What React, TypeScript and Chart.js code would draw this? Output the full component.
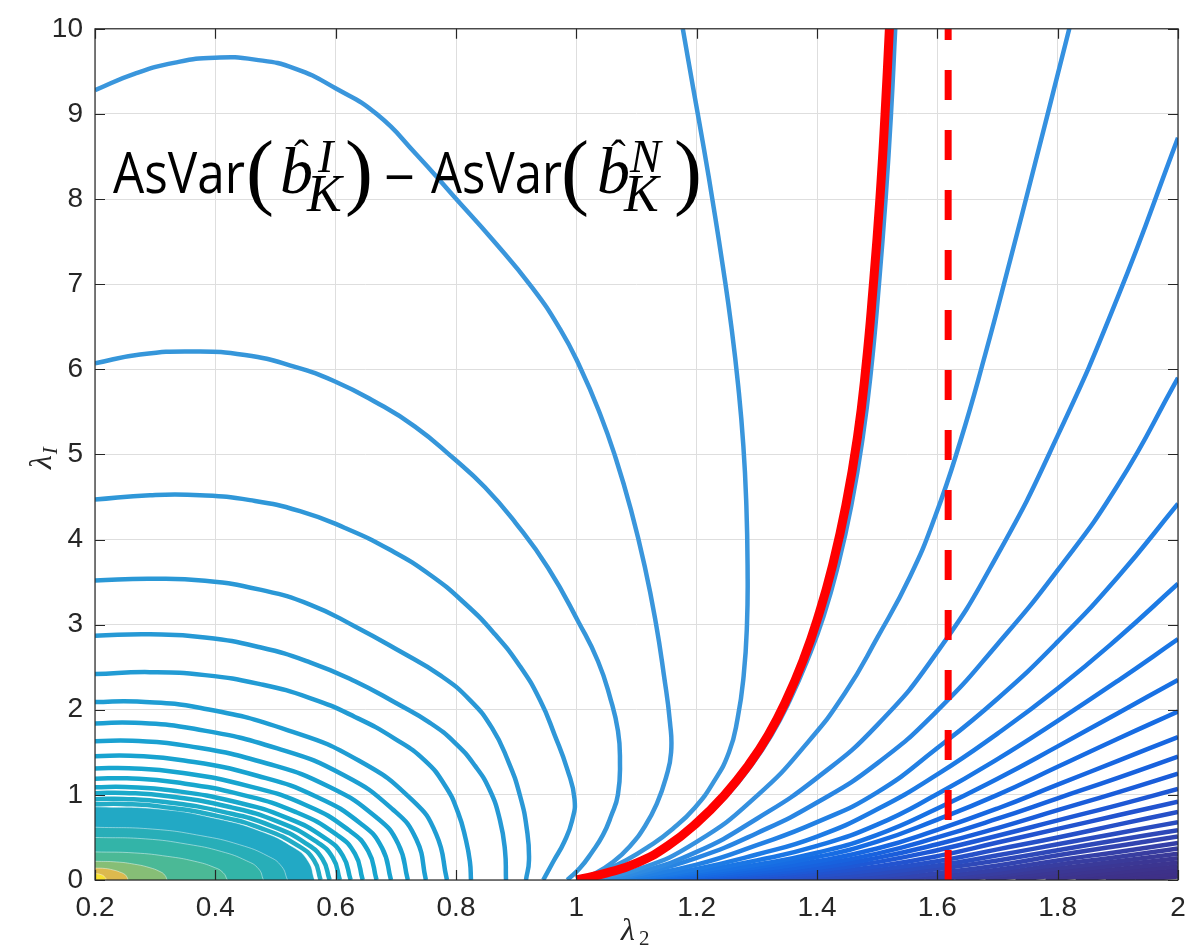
import React, { useEffect, useRef } from "react";
import { Chart, registerables } from "chart.js";

Chart.register(...registerables);

type P = [number, number];

// ---- axes ----
const xTicks = [0.2, 0.4, 0.6, 0.8, 1, 1.2, 1.4, 1.6, 1.8, 2];
const yTicks = [0, 1, 2, 3, 4, 5, 6, 7, 8, 9, 10];
const xRange = [0.2, 2];
const yRange = [0, 10];

// ---- vertical reference (dashed red) ----
const goldenRatio = 1.618;

// ---- zero contour (red) and the blue zero-level contour under it ----
const zeroRed: P[] = [[1.0,0],[1.0493,0.08],[1.1008,0.2],[1.1516,0.4],[1.2015,0.68],[1.2464,1.0],[1.2862,1.35],[1.3187,1.7],[1.3481,2.1],[1.378,2.6],[1.4022,3.1],[1.426,3.7],[1.448,4.4],[1.4672,5.2],[1.4809,6.0],[1.4937,7.0],[1.5045,8.0],[1.5131,9.0],[1.5203,10]];
const zeroBlue: P[] = [[1.0,0],[1.051,0.08],[1.103,0.2],[1.154,0.4],[1.204,0.68],[1.251,1.0],[1.291,1.35],[1.324,1.7],[1.354,2.1],[1.385,2.6],[1.411,3.1],[1.435,3.7],[1.457,4.4],[1.476,5.2],[1.49,6.0],[1.503,7.0],[1.514,8.0],[1.523,9.0],[1.53,10]];

// ---- left family ----
const cTop: P[] = [[1.177,10],[1.1943,9.3],[1.2118,8.6],[1.2283,7.9],[1.2437,7.2],[1.2577,6.5],[1.2691,5.8],[1.2776,5.1],[1.2826,4.4],[1.2846,3.7],[1.2836,3.0],[1.2781,2.4],[1.2681,1.9],[1.2537,1.5],[1.228,1.15],[1.197,0.85],[1.16,0.6],[1.122,0.4],[1.082,0.23],[1.042,0.1],[1.006,0]];
const cA: P[] = [[0.2,9.28],[0.2665,9.474],[0.333,9.603],[0.3994,9.661],[0.4659,9.638],[0.5324,9.533],[0.6005,9.299],[0.6687,8.995],[0.7335,8.53],[0.7966,8.03],[0.8598,7.53],[0.9263,6.963],[0.9728,6.475],[1.006,6.027],[1.0393,5.478],[1.0659,4.946],[1.0908,4.348],[1.114,3.675],[1.1323,3.016],[1.1456,2.404],[1.1556,1.854],[1.1575,1.5],[1.1489,1.2],[1.134,0.9],[1.114,0.631],[1.0891,0.397],[1.0609,0.21],[1.0326,0.082],[1.0027,0]];
const cB: P[] = [[0.2,6.07],[0.2748,6.174],[0.3612,6.21],[0.4493,6.168],[0.5324,6.028],[0.598,5.86],[0.6653,5.619],[0.7318,5.327],[0.7949,4.96],[0.8481,4.614],[0.8996,4.19],[0.9529,3.668],[1.0044,3.02],[1.036,2.57],[1.0571,2.12],[1.0692,1.752],[1.0725,1.425],[1.0692,1.005],[1.0576,0.748],[1.0443,0.53],[1.026,0.327],[1.006,0.14],[0.985,0]];
const cC: P[] = [[0.2,4.47],[0.2914,4.521],[0.3745,4.521],[0.4576,4.463],[0.5407,4.334],[0.6155,4.136],[0.6903,3.879],[0.7568,3.586],[0.8149,3.248],[0.8648,2.886],[0.9063,2.512],[0.9396,2.114],[0.9645,1.694],[0.985,1.3],[0.997,0.95],[0.993,0.7],[0.98,0.45],[0.962,0.22],[0.945,0]];
const cD: P[] = [[0.2,3.52],[0.2914,3.54],[0.3828,3.516],[0.4742,3.411],[0.5573,3.236],[0.6321,2.979],[0.7069,2.687],[0.7734,2.407],[0.8232,2.114],[0.8598,1.787],[0.8864,1.402],[0.9063,0.993],[0.918,0.584],[0.9213,0.234],[0.9163,0]];
const cE: P[] = [[0.2,2.87],[0.2914,2.886],[0.3828,2.85],[0.4742,2.734],[0.5573,2.558],[0.6321,2.336],[0.7002,2.079],[0.7568,1.846],[0.7983,1.612],[0.8315,1.343],[0.8565,1.051],[0.8731,0.701],[0.8814,0.35],[0.8831,0]];
const cF: P[] = [[0.2,2.42],[0.2914,2.442],[0.3828,2.407],[0.4742,2.301],[0.5573,2.138],[0.6321,1.916],[0.6986,1.659],[0.7484,1.402],[0.7817,1.11],[0.8033,0.794],[0.8166,0.467],[0.8232,0.21],[0.8249,0]];
const cG: P[] = [[0.2,2.09],[0.27,2.096],[0.376,2.02],[0.522,1.756],[0.639,1.4],[0.727,0.94],[0.767,0.54],[0.785,0]];
const cH: P[] = [[0.2,1.84],[0.266,1.846],[0.365,1.776],[0.503,1.546],[0.613,1.233],[0.695,0.828],[0.734,0.478],[0.75,0]];
const cI: P[] = [[0.2,1.63],[0.262,1.635],[0.356,1.573],[0.486,1.369],[0.59,1.092],[0.668,0.734],[0.704,0.424],[0.72,0]];
const cJ: P[] = [[0.2,1.455],[0.259,1.46],[0.348,1.404],[0.471,1.222],[0.569,0.975],[0.643,0.655],[0.677,0.378],[0.692,0]];
const cK: P[] = [[0.2,1.31],[0.256,1.314],[0.34,1.264],[0.457,1.1],[0.551,0.878],[0.621,0.59],[0.654,0.341],[0.668,0]];
const cL: P[] = [[0.2,1.19],[0.253,1.194],[0.334,1.148],[0.445,1.0],[0.534,0.797],[0.601,0.536],[0.632,0.309],[0.645,0]];
const cM: P[] = [[0.2,1.09],[0.251,1.093],[0.328,1.052],[0.434,0.916],[0.519,0.73],[0.583,0.49],[0.612,0.283],[0.625,0]];
const cN: P[] = [[0.2,1.02],[0.249,1.023],[0.322,0.984],[0.424,0.857],[0.505,0.683],[0.566,0.459],[0.595,0.265],[0.607,0]];
const cO: P[] = [[0.2,0.95],[0.247,0.953],[0.317,0.917],[0.415,0.798],[0.493,0.637],[0.551,0.428],[0.578,0.247],[0.59,0]];
const cP: P[] = [[0.2,0.89],[0.245,0.893],[0.313,0.859],[0.406,0.748],[0.481,0.596],[0.538,0.4],[0.564,0.231],[0.575,0]];

// dense core near the origin (filled levels)
const core1: P[] = [[0.2,0.86],[0.31,0.83],[0.401,0.722],[0.474,0.576],[0.529,0.387],[0.554,0.224],[0.565,0]];
const core2: P[] = [[0.2,0.62],[0.296,0.598],[0.376,0.521],[0.44,0.415],[0.488,0.279],[0.51,0.161],[0.52,0]];
const core3: P[] = [[0.2,0.5],[0.284,0.483],[0.354,0.42],[0.41,0.335],[0.452,0.225],[0.472,0.13],[0.48,0]];
const core4: P[] = [[0.2,0.33],[0.266,0.318],[0.321,0.277],[0.365,0.221],[0.398,0.149],[0.413,0.086],[0.42,0]];
const core5: P[] = [[0.2,0.22],[0.236,0.212],[0.266,0.185],[0.29,0.147],[0.308,0.099],[0.316,0.057],[0.32,0]];
const core6: P[] = [[0.2,0.14],[0.217,0.135],[0.23,0.118],[0.241,0.094],[0.25,0.063],[0.253,0.036],[0.255,0]];
const core7: P[] = [[0.2,0.075],[0.205,0.072],[0.21,0.063],[0.214,0.05],[0.216,0.034],[0.218,0.02],[0.218,0]];

// ---- right family ----
const r2: P[] = [[1.0193,0],[1.1008,0.12],[1.2005,0.45],[1.3019,1.0],[1.385,1.62],[1.4465,2.196],[1.5005,2.85],[1.5545,3.563],[1.596,4.264],[1.6376,5.14],[1.6791,6.162],[1.7207,7.272],[1.7622,8.411],[1.8038,9.568],[1.8196,10.01]];
const r3: P[] = [[1.04,0],[1.1,0.08],[1.2,0.33],[1.3,0.72],[1.4,1.2],[1.5,1.82],[1.6,2.68],[1.7,3.82],[1.8,5.22],[1.9,6.85],[2.0,8.72]];
const r4: P[] = [[1.05,0],[1.1,0.06],[1.2,0.26],[1.3,0.55],[1.4,0.91],[1.5,1.37],[1.6,1.99],[1.7,2.77],[1.8,3.64],[1.9,4.64],[2.0,5.9]];
const r5: P[] = [[1.06,0],[1.1,0.04],[1.2,0.18],[1.3,0.41],[1.4,0.68],[1.5,1.03],[1.6,1.55],[1.7,2.13],[1.8,2.8],[1.9,3.56],[2.0,4.42]];
const r6: P[] = [[1.07,0],[1.1,0.02],[1.2,0.13],[1.3,0.3],[1.4,0.51],[1.5,0.83],[1.6,1.24],[1.7,1.72],[1.8,2.25],[1.9,2.84],[2.0,3.48]];
const r7: P[] = [[1.08,0],[1.2,0.1],[1.3,0.23],[1.4,0.4],[1.5,0.65],[1.6,1.01],[1.7,1.42],[1.8,1.87],[1.9,2.34],[2.0,2.83]];
const r8: P[] = [[1.09,0],[1.2,0.08],[1.3,0.18],[1.4,0.32],[1.5,0.53],[1.6,0.84],[1.7,1.19],[1.8,1.57],[1.9,1.96],[2.0,2.35]];
const r9: P[] = [[1.1,0],[1.2,0.06],[1.3,0.15],[1.4,0.27],[1.5,0.45],[1.6,0.71],[1.7,1.0],[1.8,1.33],[1.9,1.66],[2.0,1.98]];
const r10: P[] = [[1.12,0],[1.2,0.04],[1.3,0.12],[1.4,0.22],[1.5,0.37],[1.6,0.59],[1.7,0.84],[1.8,1.12],[1.9,1.4],[2.0,1.68]];
const r11: P[] = [[1.14,0],[1.2,0.03],[1.3,0.09],[1.4,0.18],[1.5,0.31],[1.6,0.5],[1.7,0.72],[1.8,0.96],[1.9,1.2],[2.0,1.45]];
const r12: P[] = [[1.17,0],[1.3,0.07],[1.4,0.14],[1.5,0.26],[1.6,0.42],[1.7,0.61],[1.8,0.82],[1.9,1.03],[2.0,1.25]];
const r13: P[] = [[1.2,0],[1.3,0.045],[1.4,0.11],[1.5,0.21],[1.6,0.35],[1.7,0.52],[1.8,0.7],[1.9,0.88],[2.0,1.07]];
const r14: P[] = [[1.24,0],[1.3,0.02],[1.4,0.08],[1.5,0.16],[1.6,0.28],[1.7,0.44],[1.8,0.6],[1.9,0.76],[2.0,0.92]];
const r15: P[] = [[1.29,0],[1.4,0.05],[1.5,0.12],[1.6,0.22],[1.7,0.36],[1.8,0.5],[1.9,0.65],[2.0,0.8]];
const r16: P[] = [[1.34,0],[1.4,0.02],[1.5,0.08],[1.6,0.17],[1.7,0.29],[1.8,0.42],[1.9,0.55],[2.0,0.68]];
const r17: P[] = [[1.4,0],[1.5,0.04],[1.6,0.13],[1.7,0.23],[1.8,0.35],[1.9,0.47],[2.0,0.585]];
const r18: P[] = [[1.46,0],[1.55,0.04],[1.6,0.08],[1.7,0.17],[1.8,0.29],[1.9,0.4],[2.0,0.51]];
const r19: P[] = [[1.52,0],[1.6,0.04],[1.7,0.12],[1.8,0.23],[1.9,0.33],[2.0,0.435]];
const r20: P[] = [[1.58,0],[1.7,0.08],[1.8,0.18],[1.9,0.27],[2.0,0.37]];
const r21: P[] = [[1.63,0],[1.7,0.05],[1.8,0.135],[1.9,0.22],[2.0,0.31]];
const r22: P[] = [[1.68,0],[1.8,0.095],[1.9,0.175],[2.0,0.255]];
const r23: P[] = [[1.73,0],[1.8,0.055],[1.9,0.13],[2.0,0.205]];
const r24: P[] = [[1.78,0],[1.9,0.09],[2.0,0.16]];
const r25: P[] = [[1.83,0],[1.9,0.05],[2.0,0.115]];
const r26: P[] = [[1.88,0],[1.95,0.04],[2.0,0.075]];
const r27: P[] = [[1.93,0],[2.0,0.04]];

// ---- styling (kept apart from data) ----
const leftCurves: [P[], string][] = [
  [cB, "#3596da"], [cC, "#2f97d8"], [cD, "#2a98d6"], [cE, "#2699d5"], [cF, "#229bd4"],
  [cG, "#1f9dd3"], [cH, "#1c9fd2"], [cI, "#1aa1d1"], [cJ, "#18a3d0"], [cK, "#17a5cf"],
  [cL, "#17a7ce"], [cM, "#18a8cc"], [cN, "#1aaaca"], [cO, "#1eabc8"], [cP, "#22acc6"],
];
const coreLevels: [P[], string][] = [
  [core1, "#22a9c5"], [core2, "#28aeb8"], [core3, "#33b4a8"], [core4, "#4bb996"],
  [core5, "#86be76"], [core6, "#dcb94e"], [core7, "#f8e12f"],
];
const rightCurves: [P[], string][] = [
  [r2, "#3591e0"], [r3, "#2e8ae2"], [r4, "#2885e3"], [r5, "#2280e4"], [r6, "#1d7be5"],
  [r7, "#1a76e5"], [r8, "#1871e4"], [r9, "#176ce3"], [r10, "#1767e1"], [r11, "#1862de"],
  [r12, "#1a5dda"], [r13, "#1e58d5"], [r14, "#2253cf"], [r15, "#2650c8"], [r16, "#2a4cc0"],
  [r17, "#2e48b8"], [r18, "#3244b0"], [r19, "#3540a8"], [r20, "#383da0"], [r21, "#3a3a99"],
  [r22, "#3b3794"], [r23, "#3c3590"], [r24, "#3d338c"], [r25, "#3d3189"], [r26, "#3e3087"],
  [r27, "#3e2f86"],
];

const LINE_W = 4.5;

function ds(pts: P[], color: string, width: number, order: number, extra: any = {}) {
  return {
    data: pts.map(([x, y]) => ({ x, y })),
    showLine: true,
    borderColor: color,
    backgroundColor: color,
    borderWidth: width,
    pointRadius: 0,
    pointHoverRadius: 0,
    tension: 0.5,
    fill: false,
    clip: 0,
    order,
    ...extra,
  };
}

const SANS = '"Open Sans", "Noto Sans", "DejaVu Sans", sans-serif';
const SERIF = '"Liberation Serif", "DejaVu Serif", serif';

const decorPlugin = {
  id: "decor",
  afterDatasetsDraw(chart: any) {
    const { ctx, chartArea: a, scales } = chart;
    const x = scales.x, y = scales.y;
    ctx.save();
    ctx.strokeStyle = "#262626";
    ctx.lineWidth = 1.2;
    ctx.strokeRect(a.left, a.top, a.right - a.left, a.bottom - a.top);
    ctx.beginPath();
    for (const v of xTicks) {
      const px = Math.round(x.getPixelForValue(v)) + 0.5;
      ctx.moveTo(px, a.bottom); ctx.lineTo(px, a.bottom - 10);
      ctx.moveTo(px, a.top); ctx.lineTo(px, a.top + 10);
    }
    for (const v of yTicks) {
      const py = Math.round(y.getPixelForValue(v)) + 0.5;
      ctx.moveTo(a.left, py); ctx.lineTo(a.left + 10, py);
      ctx.moveTo(a.right, py); ctx.lineTo(a.right - 10, py);
    }
    ctx.stroke();
    ctx.restore();
  },
  afterDraw(chart: any) {
    const { ctx } = chart;
    const put = (t: string, px: number, py: number, font: string, w?: number, color = "#000") => {
      ctx.save();
      ctx.font = font;
      ctx.fillStyle = color;
      ctx.textBaseline = "alphabetic";
      ctx.textAlign = "left";
      const m = ctx.measureText(t).width;
      ctx.translate(px, py);
      if (w) ctx.scale(w / m, 1);
      ctx.fillText(t, 0, 0);
      ctx.restore();
    };
    // formula annotation
    put("AsVar", 113, 193, `56px ${SANS}`, 132);
    put("(", 246, 199, `84px ${SERIF}`);
    put("b", 280, 193, `italic 66px ${SERIF}`);
    put("ˆ", 294, 170, `44px ${SERIF}`);
    put("I", 318, 172, `italic 46px ${SERIF}`);
    put("K", 307, 211, `italic 52px ${SERIF}`);
    put(")", 345, 199, `84px ${SERIF}`);
    put("−", 384, 197, `56px ${SANS}`, 31);
    put("AsVar", 431, 193, `56px ${SANS}`, 131);
    put("(", 561, 199, `84px ${SERIF}`);
    put("b", 597, 193, `italic 66px ${SERIF}`);
    put("ˆ", 611, 170, `44px ${SERIF}`);
    put("N", 630, 172, `italic 46px ${SERIF}`);
    put("K", 624, 211, `italic 52px ${SERIF}`);
    put(")", 674, 199, `84px ${SERIF}`);

    // x axis title: lambda_2
    put("λ", 621, 940, `italic 32px ${SERIF}`, undefined, "#262626");
    put("2", 639, 945, `21px ${SERIF}`, undefined, "#262626");

    // y axis title: lambda_I (rotated)
    ctx.save();
    ctx.translate(51, 469);
    ctx.rotate(-Math.PI / 2);
    ctx.fillStyle = "#262626";
    ctx.font = `italic 32px ${SERIF}`;
    ctx.textBaseline = "alphabetic";
    ctx.fillText("λ", 0, 0);
    const lw = ctx.measureText("λ").width;
    ctx.font = `italic 21px ${SERIF}`;
    ctx.fillText("I", lw + 1, 6);
    ctx.restore();
  },
};

export default function App() {
  const ref = useRef<HTMLCanvasElement>(null);
  useEffect(() => {
    const datasets: any[] = [];
    datasets.push(ds([[goldenRatio, yRange[0]], [goldenRatio, yRange[1]]], "#ff0000", 7, 0, { borderDash: [30, 30], tension: 0, borderCapStyle: "butt" }));
    datasets.push(ds(zeroRed, "#ff0000", 9, 1));
    datasets.push(ds(zeroBlue, "#3d95dd", LINE_W, 2));
    datasets.push(ds(cTop, "#3a96dc", LINE_W, 3));
    datasets.push(ds(cA, "#3a96dc", LINE_W, 3));
    leftCurves.forEach(([p, c], i) => datasets.push(ds(p, c, LINE_W, 10 + i)));
    rightCurves.forEach(([p, c], i) => datasets.push(ds(p, c, LINE_W, 40 + i)));
    coreLevels.forEach(([p, c], i) =>
      datasets.push(ds(p, "rgba(255,255,255,0.45)", 1, 200 - i, { fill: "origin", backgroundColor: c }))
    );

    const tickFont = { family: '"Liberation Sans", Arial, Helvetica, sans-serif', size: 28 };
    const chart = new Chart(ref.current as HTMLCanvasElement, {
      type: "scatter",
      data: { datasets },
      options: {
        animation: false,
        responsive: false,
        devicePixelRatio: 1,
        events: [],
        layout: { padding: { left: 0, top: 24, right: 25, bottom: 0 } },
        plugins: { legend: { display: false }, tooltip: { enabled: false }, title: { display: false } },
        scales: {
          x: {
            type: "linear",
            min: xRange[0],
            max: xRange[1],
            afterBuildTicks: (s: any) => { s.ticks = xTicks.map((v) => ({ value: v })); },
            afterFit: (s: any) => { s.height = 66; },
            ticks: {
              autoSkip: false,
              maxRotation: 0,
              padding: 11,
              color: "#262626",
              font: tickFont,
              callback: (_v: any, i: number) => String(xTicks[i]),
            },
            grid: { color: "#dedede", lineWidth: 1, drawTicks: false },
            border: { display: false },
          },
          y: {
            type: "linear",
            min: yRange[0],
            max: yRange[1],
            afterBuildTicks: (s: any) => { s.ticks = yTicks.map((v) => ({ value: v })); },
            afterFit: (s: any) => { s.width = 95; },
            ticks: {
              autoSkip: false,
              padding: 12,
              color: "#262626",
              font: tickFont,
              callback: (_v: any, i: number) => String(yTicks[i]),
            },
            grid: { color: "#dedede", lineWidth: 1, drawTicks: false },
            border: { display: false },
          },
        },
      } as any,
      plugins: [decorPlugin],
    });
    return () => chart.destroy();
  }, []);

  return (
    <div style={{ position: "fixed", left: 0, top: 0, width: 1203, height: 946, background: "#fff" }}>
      <canvas ref={ref} width={1203} height={946} style={{ display: "block", width: 1203, height: 946 }} />
    </div>
  );
}
